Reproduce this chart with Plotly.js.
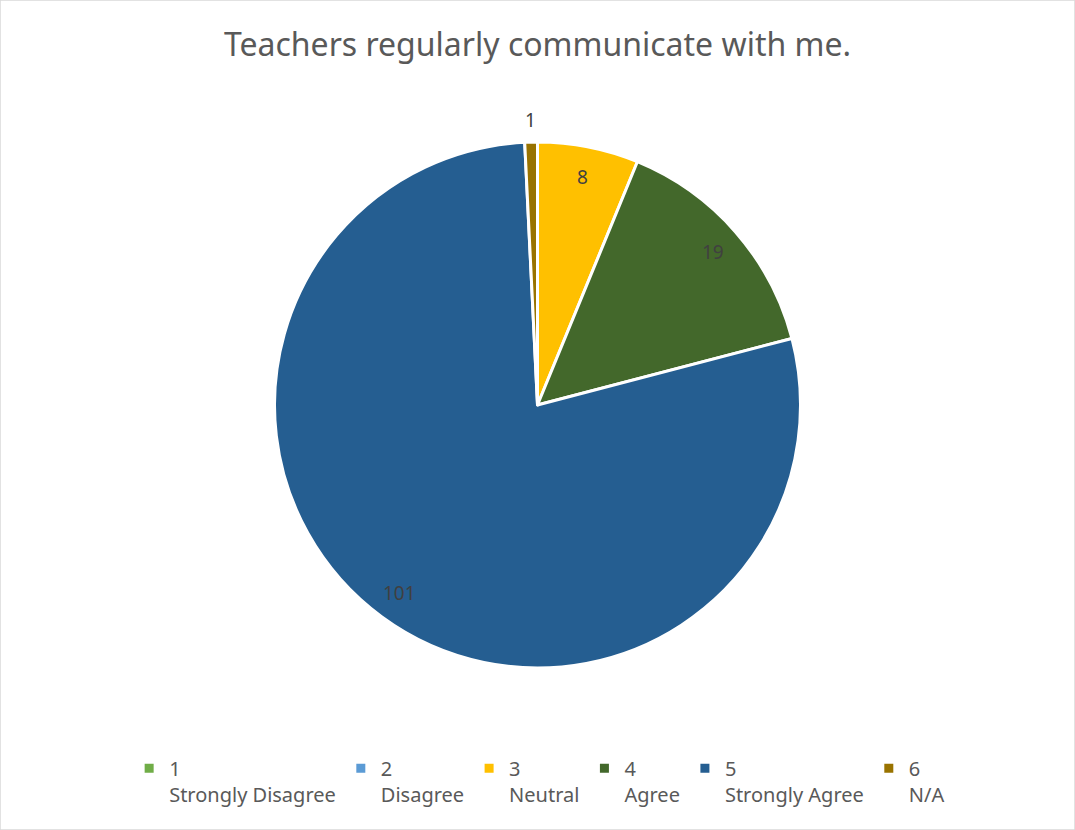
<!DOCTYPE html>
<html>
<head>
<meta charset="utf-8">
<script src="https://cdn.plot.ly/plotly-3.0.1.min.js"></script>
<style>html,body{margin:0;padding:0;background:#fff;}#chart{width:1075px;height:830px;}</style>
</head>
<body>
<div id="chart"></div>
<script>
const codes = ['1', '2', '3', '4', '5', '6'];
const responses = ['Strongly Disagree', 'Disagree', 'Neutral', 'Agree', 'Strongly Agree', 'N/A'];
const counts = [0, 0, 8, 19, 101, 1];
const colors = ['#70AD47', '#5B9BD5', '#FFC000', '#43682B', '#255E91', '#997300'];

const W = 1075, H = 830;
const domX = [0, 1], domY = [0.1952, 0.8289];
const labels = codes.map((c, i) => c + '<br>' + responses[i]);

// data labels placed along each slice's bisector (derived from counts)
const total = counts.reduce((a, b) => a + b, 0);
const cxP = (domX[0] + domX[1]) / 2, cyP = (domY[0] + domY[1]) / 2;
const Rpx = Math.min((domX[1] - domX[0]) * W, (domY[1] - domY[0]) * H) / 2;
const annotations = [];
let cum = 0;
counts.forEach((v, i) => {
  if (v > 0) {
    const frac = (cum + v / 2) / total;
    const ang = frac * 2 * Math.PI;
    const outside = v / total < 0.02;
    const r = Rpx * (outside ? 1.085 : 0.885);
    annotations.push({
      xref: 'paper', yref: 'paper',
      x: cxP + r * Math.sin(ang) / W,
      y: cyP + r * Math.cos(ang) / H,
      text: String(v), showarrow: false,
      xanchor: 'center', yanchor: 'middle',
      font: {family: 'Noto Sans, sans-serif', size: 19, color: '#404040'}
    });
  }
  cum += v;
});

const trace = {
  type: 'pie',
  labels: labels,
  values: counts,
  textinfo: 'none',
  marker: {colors: colors, line: {color: '#ffffff', width: 3}},
  sort: false,
  direction: 'clockwise',
  rotation: 0,
  hoverinfo: 'label+value',
  domain: {x: domX, y: domY},
  automargin: false
};

const layout = {
  width: W,
  height: H,
  margin: {l: 0, r: 0, t: 0, b: 0},
  paper_bgcolor: '#ffffff',
  title: {
    text: 'Teachers regularly communicate with me.',
    font: {family: 'Noto Sans, sans-serif', size: 32, color: '#595959'},
    x: 0.5, xanchor: 'center', y: 0.946, yanchor: 'middle'
  },
  showlegend: true,
  legend: {
    orientation: 'h',
    x: 0.502, xanchor: 'center',
    y: 0.098, yanchor: 'top',
    valign: 'top',
    font: {family: 'Noto Sans, sans-serif', size: 20, color: '#595959'},
    itemwidth: 30,
    traceorder: 'normal'
  },
  annotations: annotations,
  shapes: [{type: 'rect', xref: 'paper', yref: 'paper', x0: 0, x1: 1, y0: 0, y1: 1,
            line: {color: '#D9D9D9', width: 1.5}}]
};

Plotly.newPlot('chart', [trace], layout, {displayModeBar: false, staticPlot: true});
</script>
</body>
</html>
